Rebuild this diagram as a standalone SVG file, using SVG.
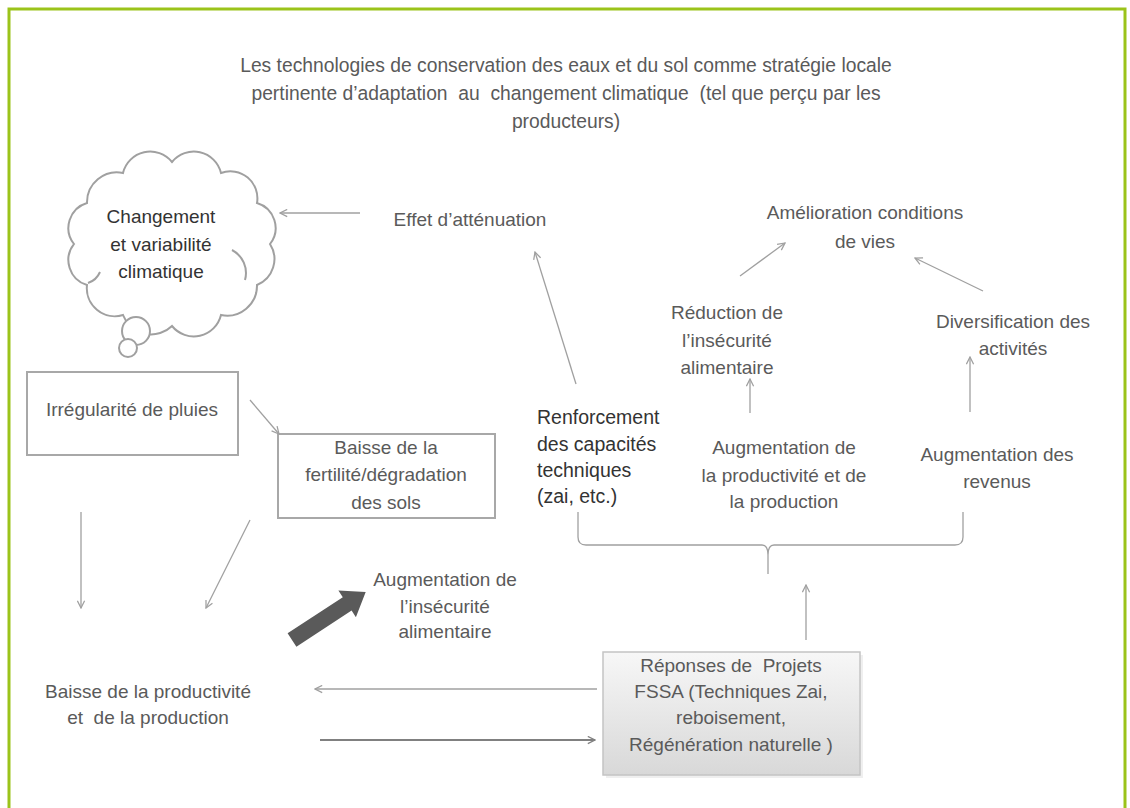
<svg xmlns="http://www.w3.org/2000/svg" width="1130" height="808" viewBox="0 0 1130 808">
<defs>
<style>
text{font-family:"Liberation Sans",Arial,sans-serif;font-size:19px;fill:#5a5a5a;text-anchor:middle;white-space:pre}
.dk{fill:#333}
.lt{text-anchor:start}
.ln{stroke:#a0a0a0;stroke-width:1.3;fill:none}
.box{fill:#fff;stroke:#a8a8a8;stroke-width:2}
</style>
<marker id="ah" viewBox="0 0 10 10" refX="9" refY="5" markerWidth="9" markerHeight="9" markerUnits="userSpaceOnUse" orient="auto">
<path d="M1 1 L9 5 L1 9" fill="none" stroke="#a0a0a0" stroke-width="1.4"/>
</marker>
<marker id="ahd" viewBox="0 0 10 10" refX="9" refY="5" markerWidth="9" markerHeight="9" markerUnits="userSpaceOnUse" orient="auto">
<path d="M1 1 L9 5 L1 9" fill="none" stroke="#808080" stroke-width="1.4"/>
</marker>
<linearGradient id="gr" x1="0" y1="0" x2="0" y2="1">
<stop offset="0" stop-color="#f7f7f7"/>
<stop offset="1" stop-color="#d8d8d8"/>
</linearGradient>
</defs>
<rect width="1130" height="808" fill="#fff"/>
<path d="M9 812 V9 H1125 V812" fill="none" stroke="#9bc31a" stroke-width="3"/>

<g id="title">
<text x="566" y="72" style="font-size:19.3px">Les technologies de conservation des eaux et du sol comme stratégie locale</text>
<text x="566" y="100" style="font-size:19.3px">pertinente d’adaptation  au  changement climatique  (tel que perçu par les</text>
<text x="566" y="128" style="font-size:19.3px">producteurs)</text>
</g>

<g id="cloud">
<path d="M74 244 A26 26 0 0 1 87 203 A30 30 0 0 1 123 173 A28 28 0 0 1 172 162 A28 28 0 0 1 221 173 A27 27 0 0 1 257 203 A26 26 0 0 1 270 244 A28 28 0 0 1 257 285 A30 30 0 0 1 221 315 A28 28 0 0 1 172 326 A30 30 0 0 1 123 315 A28 28 0 0 1 87 285 A26 26 0 0 1 74 244 Z" fill="#fff" stroke="#a0a0a0" stroke-width="2"/>
<path d="M232 250 A26 26 0 0 1 245 280 M88 283 A20 20 0 0 0 100 272" fill="none" stroke="#a0a0a0" stroke-width="2"/>
<circle cx="136" cy="331" r="14" fill="#fff" stroke="#a0a0a0" stroke-width="2"/>
<circle cx="128" cy="348" r="9" fill="#fff" stroke="#a0a0a0" stroke-width="2"/>
<text class="dk" x="161" y="223">Changement</text>
<text class="dk" x="161" y="251">et variabilité</text>
<text class="dk" x="161" y="278">climatique</text>
</g>

<g id="effet"><text x="470" y="226">Effet d’atténuation</text></g>
<g id="amelioration">
<text x="865" y="219">Amélioration conditions</text>
<text x="865" y="248">de vies</text>
</g>
<g id="reduction">
<text x="727" y="319">Réduction de</text>
<text x="727" y="347">l’insécurité</text>
<text x="727" y="374">alimentaire</text>
</g>
<g id="diversification">
<text x="1013" y="328">Diversification des</text>
<text x="1013" y="355">activités</text>
</g>
<g id="renforcement">
<text class="dk lt" x="537" y="424" style="font-size:19.5px">Renforcement</text>
<text class="dk lt" x="537" y="451" style="font-size:19.5px">des capacités</text>
<text class="dk lt" x="537" y="477" style="font-size:19.5px">techniques</text>
<text class="dk lt" x="537" y="503" style="font-size:19.5px">(zai, etc.)</text>
</g>
<g id="augprod">
<text x="784" y="454">Augmentation de</text>
<text x="784" y="482">la productivité et de</text>
<text x="784" y="508">la production</text>
</g>
<g id="augrev">
<text x="997" y="461">Augmentation des</text>
<text x="997" y="488">revenus</text>
</g>
<g id="irregularite">
<rect class="box" x="27" y="372" width="211" height="83"/>
<text x="132" y="416">Irrégularité de pluies</text>
</g>
<g id="baisse-fertilite">
<rect class="box" x="278" y="434" width="217" height="84"/>
<text x="386" y="454">Baisse de la</text>
<text x="386" y="481">fertilité/dégradation</text>
<text x="386" y="509">des sols</text>
</g>
<g id="aug-insecurite">
<text x="445" y="586">Augmentation de</text>
<text x="445" y="613">l’insécurité</text>
<text x="445" y="638">alimentaire</text>
</g>
<g id="baisse-prod">
<text x="148" y="698">Baisse de la productivité</text>
<text x="148" y="724">et  de la production</text>
</g>
<g id="reponses">
<rect x="606" y="655" width="257" height="123" fill="#e4e4e4" opacity="0.6"/>
<rect x="603" y="652" width="257" height="123" fill="url(#gr)" stroke="#c4c4c4" stroke-width="1.5"/>
<text x="731" y="672">Réponses de  Projets</text>
<text x="731" y="698">FSSA (Techniques Zai,</text>
<text x="731" y="724">reboisement,</text>
<text x="731" y="751">Régénération naturelle )</text>
</g>

<g id="connectors">
<line class="ln" x1="360" y1="213" x2="280" y2="213" marker-end="url(#ah)"/>
<line class="ln" x1="576" y1="384" x2="535" y2="252" marker-end="url(#ah)"/>
<line class="ln" x1="740" y1="276" x2="785" y2="243" marker-end="url(#ah)"/>
<line class="ln" x1="983" y1="291" x2="915" y2="258" marker-end="url(#ah)"/>
<line class="ln" x1="750" y1="413" x2="750" y2="379" marker-end="url(#ah)"/>
<line class="ln" x1="970" y1="412" x2="970" y2="357" marker-end="url(#ah)"/>
<path class="ln" stroke-width="1.8" d="M578 512 V537 Q578 545 586 545 H762 Q768 545 768 555 V574 M768 555 Q768 545 774 545 H955 Q963 545 963 537 V512"/>
<line class="ln" x1="806" y1="640" x2="806" y2="585" marker-end="url(#ah)"/>
<line class="ln" x1="250" y1="400" x2="279" y2="434" marker-end="url(#ah)"/>
<line class="ln" x1="81" y1="512" x2="81" y2="608" marker-end="url(#ah)"/>
<line class="ln" x1="250" y1="520" x2="206" y2="608" marker-end="url(#ah)"/>
<line class="ln" x1="597" y1="689" x2="315" y2="689" marker-end="url(#ah)"/>
<line x1="320" y1="740" x2="595" y2="740" stroke="#808080" stroke-width="1.8" marker-end="url(#ahd)"/>
<polygon points="287.6,633.3 342.8,597.3 338.4,590.5 365.7,591.9 355.9,617.3 351.6,610.6 296.4,646.7" fill="#5a5a5a"/>
</g>
</svg>
